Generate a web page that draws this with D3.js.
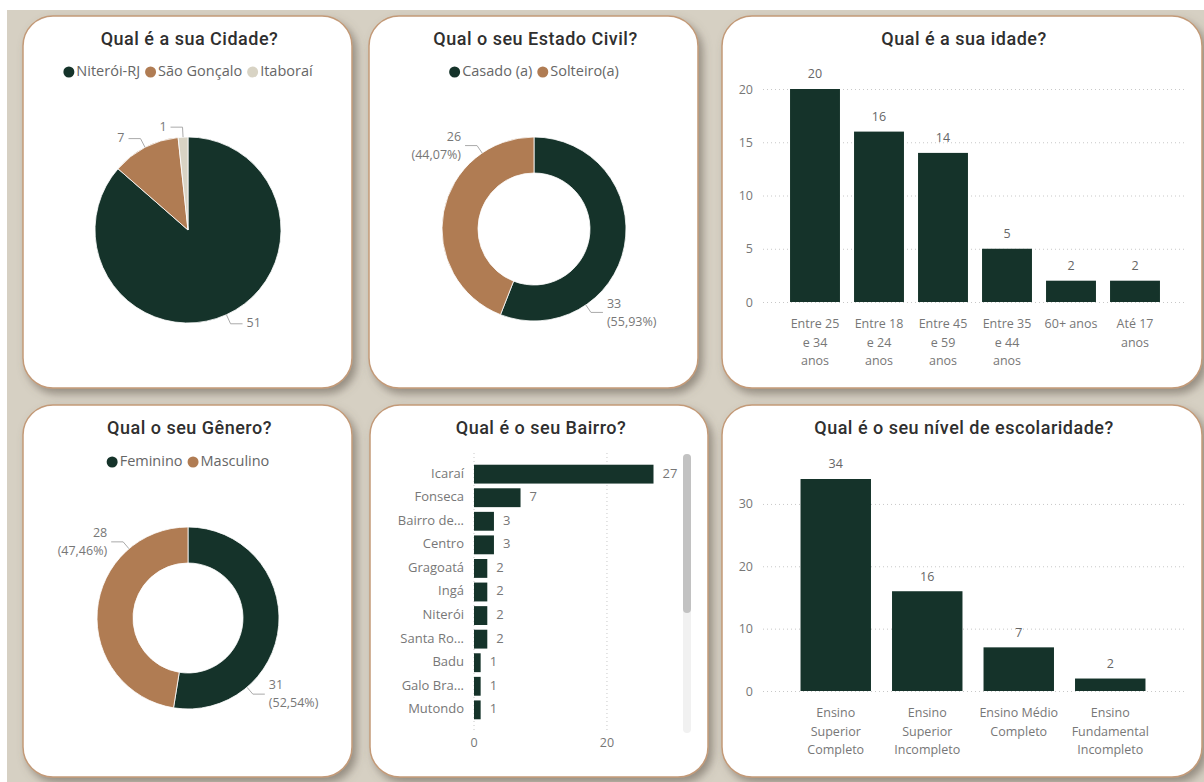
<!DOCTYPE html>
<html>
<head>
<meta charset="utf-8">
<script src="https://cdn.jsdelivr.net/npm/d3@7"></script>
<style>
  body { margin: 0; background: #fff; }
  text { font-family: "Open Sans", sans-serif; }
  .title { font-family: Roboto, sans-serif; font-weight: 500; font-size: 18px; letter-spacing: 0.5px; fill: #2f2f2f; }
</style>
</head>
<body>
<div id="dash"></div>
<script>
// Cidade
var cidades = ["Niterói-RJ", "São Gonçalo", "Itaboraí"];
var cidadeValores = [51, 7, 1];
// Estado civil
var estadosCivis = ["Casado (a)", "Solteiro(a)"];
var estadoCivilValores = [33, 26];
// Idade
var idades = ["Entre 25 e 34 anos", "Entre 18 e 24 anos", "Entre 45 e 59 anos", "Entre 35 e 44 anos", "60+ anos", "Até 17 anos"];
var idadeValores = [20, 16, 14, 5, 2, 2];
var idadeRotulos = [["Entre 25", "e 34", "anos"], ["Entre 18", "e 24", "anos"], ["Entre 45", "e 59", "anos"], ["Entre 35", "e 44", "anos"], ["60+ anos"], ["Até 17", "anos"]];
var idadeTicks = [0, 5, 10, 15, 20];
// Genero
var generos = ["Feminino", "Masculino"];
var generoValores = [31, 28];
// Bairro
var bairros = ["Icaraí", "Fonseca", "Bairro de...", "Centro", "Gragoatá", "Ingá", "Niterói", "Santa Ro...", "Badu", "Galo Bra...", "Mutondo"];
var bairroValores = [27, 7, 3, 3, 2, 2, 2, 2, 1, 1, 1];
var bairroTicks = [0, 20];
// Escolaridade
var escolaridades = ["Ensino Superior Completo", "Ensino Superior Incompleto", "Ensino Médio Completo", "Ensino Fundamental Incompleto"];
var escolaridadeValores = [34, 16, 7, 2];
var escolaridadeRotulos = [["Ensino", "Superior", "Completo"], ["Ensino", "Superior", "Incompleto"], ["Ensino Médio", "Completo"], ["Ensino", "Fundamental", "Incompleto"]];
var escolaridadeTicks = [0, 10, 20, 30];

var verde = "#15332a", marrom = "#b07c53", bege = "#d8d3c4";

var svg = d3.select("#dash").append("svg").attr("width", 1204).attr("height", 782);

var defs = svg.append("defs");
var f = defs.append("filter").attr("id", "sombra").attr("x", "-10%").attr("y", "-10%").attr("width", "125%").attr("height", "125%");
f.append("feDropShadow").attr("dx", 4).attr("dy", 5).attr("stdDeviation", 4)
  .attr("flood-color", "#5e574b").attr("flood-opacity", 0.55);

svg.append("rect").attr("x", 7).attr("y", 10).attr("width", 1197).attr("height", 772).attr("fill", "#d6d0c3");

var paineis = [
  {x: 23, y: 16, w: 329, h: 372, t: "Qual é a sua Cidade?"},
  {x: 369, y: 16, w: 329, h: 372, t: "Qual o seu Estado Civil?"},
  {x: 722, y: 16, w: 480, h: 372, t: "Qual é a sua idade?"},
  {x: 23, y: 405, w: 329, h: 372, t: "Qual o seu Gênero?"},
  {x: 370, y: 405, w: 338, h: 372, t: "Qual é o seu Bairro?"},
  {x: 722, y: 405, w: 480, h: 372, t: "Qual é o seu nível de escolaridade?"}
];

svg.selectAll("rect.painel").data(paineis).enter().append("rect")
  .attr("class", "painel")
  .attr("x", d => d.x).attr("y", d => d.y).attr("width", d => d.w).attr("height", d => d.h)
  .attr("rx", 30).attr("ry", 30)
  .attr("fill", "#fff").attr("stroke", "#c39a78").attr("stroke-width", 1.5)
  .attr("filter", "url(#sombra)");

svg.selectAll("text.title").data(paineis).enter().append("text")
  .attr("class", "title")
  .attr("x", d => d.x + d.w / 2 + 2).attr("y", d => d.y + 24)
  .attr("text-anchor", "middle").attr("dominant-baseline", "middle")
  .text(d => d.t);

function legenda(cx, y, nomes, cores) {
  var g = svg.append("g");
  var x = 0;
  nomes.forEach(function(n, i) {
    g.append("circle").attr("cx", x + 5.5).attr("cy", y).attr("r", 5.5).attr("fill", cores[i]);
    var t = g.append("text").attr("x", x + 13).attr("y", y).attr("dominant-baseline", "middle")
      .style("font-size", "14.5px").attr("fill", "#666").text(n);
    x += 13 + t.node().getComputedTextLength() + 5;
  });
  g.attr("transform", "translate(" + (cx - (x - 5) / 2) + ",0)");
}

function pizza(cx, cy, r, r0, nomes, valores, cores, comPct) {
  var total = d3.sum(valores);
  var arcs = d3.pie().sort(null)(valores);
  var g = svg.append("g").attr("transform", "translate(" + cx + "," + cy + ")");
  g.selectAll("path").data(arcs).enter().append("path")
    .attr("d", d3.arc().innerRadius(r0).outerRadius(r))
    .attr("fill", (d, i) => cores[i])
    .attr("stroke", "#fff").attr("stroke-width", 0.8);

  arcs.forEach(function(d, i) {
    var a = (d.startAngle + d.endAngle) / 2;
    if (comPct) a += Math.PI / 4;
    var s = Math.sin(a), c = -Math.cos(a);
    var lado = s >= 0 ? 1 : -1;
    var p0 = [r * s, r * c];
    var ext = comPct ? 9 : 10;
    var p1 = [(r + ext) * s, (r + ext) * c];
    var p2 = [p1[0] + lado * 12, p1[1]];
    g.append("polyline").attr("points", [p0, p1, p2].map(p => p.join(",")).join(" "))
      .attr("fill", "none").attr("stroke", "#aaa").attr("stroke-width", 1);
    var anc = lado > 0 ? "start" : "end";
    if (comPct) {
      g.append("text").attr("x", p2[0] + lado * 4).attr("y", p2[1] - 8).attr("text-anchor", anc)
        .attr("dominant-baseline", "middle").style("font-size", "12.5px").attr("fill", "#777").text(valores[i]);
      var pct = "(" + (valores[i] / total * 100).toFixed(2).replace(".", ",") + "%)";
      g.append("text").attr("x", p2[0] + lado * 4).attr("y", p2[1] + 10).attr("text-anchor", anc)
        .attr("dominant-baseline", "middle").style("font-size", "12.5px").attr("fill", "#777").text(pct);
    } else {
      g.append("text").attr("x", p2[0] + lado * 4).attr("y", p2[1]).attr("text-anchor", anc)
        .attr("dominant-baseline", "middle").style("font-size", "12.5px").attr("fill", "#777").text(valores[i]);
    }
  });
}

function colunas(cats, valores, rotulos, ticks, x0, x1, yBase, yTop, vTop, gx0, gx1, pad) {
  var x = d3.scaleBand().domain(cats).range([x0, x1]).paddingInner(pad).paddingOuter(pad / 2);
  var y = d3.scaleLinear().domain([0, vTop]).range([yBase, yTop]);
  var g = svg.append("g");

  var eixo = g.append("g").attr("transform", "translate(" + gx0 + ",0)")
    .call(d3.axisLeft(y).tickValues(ticks).tickSize(-(gx1 - gx0)).tickPadding(10));
  eixo.select(".domain").remove();
  eixo.selectAll("line").attr("stroke", "#c8c8c8").attr("stroke-dasharray", "1,3");
  eixo.selectAll("text").style("font-size", "12.5px").attr("fill", "#777")
    .style("font-family", "'Open Sans', sans-serif");

  g.selectAll("rect").data(cats).enter().append("rect")
    .attr("x", d => x(d)).attr("width", x.bandwidth())
    .attr("y", (d, i) => y(valores[i])).attr("height", (d, i) => yBase - y(valores[i]))
    .attr("fill", verde);

  g.selectAll("text.val").data(cats).enter().append("text").attr("class", "val")
    .attr("x", d => x(d) + x.bandwidth() / 2).attr("y", (d, i) => y(valores[i]) - 14)
    .attr("text-anchor", "middle").attr("dominant-baseline", "middle")
    .style("font-size", "12.5px").attr("fill", "#666").text((d, i) => valores[i]);

  cats.forEach(function(c, i) {
    rotulos[i].forEach(function(l, j) {
      g.append("text").attr("x", x(c) + x.bandwidth() / 2).attr("y", yBase + 23 + j * 18.5)
        .attr("text-anchor", "middle").attr("dominant-baseline", "middle")
        .style("font-size", "12.5px").attr("fill", "#777").text(l);
    });
  });
}

// painel 1
legenda(188, 72, cidades, [verde, marrom, bege]);
pizza(188, 230, 93, 0, cidades, cidadeValores, [verde, marrom, bege], false);

// painel 2
legenda(534, 72, estadosCivis, [verde, marrom]);
pizza(534, 229, 92, 56, estadosCivis, estadoCivilValores, [verde, marrom], true);

// painel 3
colunas(idades, idadeValores, idadeRotulos, idadeTicks, 783, 1167, 302, 89, 20, 763, 1185, 0.22);

// painel 4
legenda(188, 462, generos, [verde, marrom]);
pizza(188, 618, 91, 55, generos, generoValores, [verde, marrom], true);

// painel 5
var xb = d3.scaleLinear().domain([0, 27]).range([474, 653.5]);
var yb = d3.scaleBand().domain(bairros).range([460, 724]).padding(0.2);
var gb = svg.append("g");
gb.selectAll("line.grade").data(bairroTicks).enter().append("line").attr("class", "grade")
  .attr("x1", d => xb(d)).attr("x2", d => xb(d)).attr("y1", 453).attr("y2", 730)
  .attr("stroke", "#c8c8c8").attr("stroke-dasharray", "1,3");
gb.selectAll("text.tick").data(bairroTicks).enter().append("text").attr("class", "tick")
  .attr("x", d => xb(d)).attr("y", 744).attr("text-anchor", "middle").attr("dominant-baseline", "middle")
  .style("font-size", "12.5px").attr("fill", "#777").text(d => d);
gb.selectAll("rect").data(bairros).enter().append("rect")
  .attr("x", xb(0)).attr("y", d => yb(d)).attr("height", yb.bandwidth())
  .attr("width", (d, i) => xb(bairroValores[i]) - xb(0)).attr("fill", verde);
gb.selectAll("text.cat").data(bairros).enter().append("text").attr("class", "cat")
  .attr("x", 464).attr("y", d => yb(d) + yb.bandwidth() / 2).attr("text-anchor", "end")
  .attr("dominant-baseline", "middle").style("font-size", "13px").attr("fill", "#777").text(d => d);
gb.selectAll("text.val").data(bairros).enter().append("text").attr("class", "val")
  .attr("x", (d, i) => xb(bairroValores[i]) + 9).attr("y", d => yb(d) + yb.bandwidth() / 2)
  .attr("dominant-baseline", "middle").style("font-size", "13px").attr("fill", "#777").text((d, i) => bairroValores[i]);
// barra de rolagem
gb.append("rect").attr("x", 683).attr("y", 454).attr("width", 8).attr("height", 279).attr("rx", 4).attr("fill", "#f1f1f1");
gb.append("rect").attr("x", 683).attr("y", 454).attr("width", 8).attr("height", 159).attr("rx", 4).attr("fill", "#c2c2c2");

// painel 6
colunas(escolaridades, escolaridadeValores, escolaridadeRotulos, escolaridadeTicks, 790, 1156, 691, 479, 34, 763, 1185, 0.23);
</script>
</body>
</html>
